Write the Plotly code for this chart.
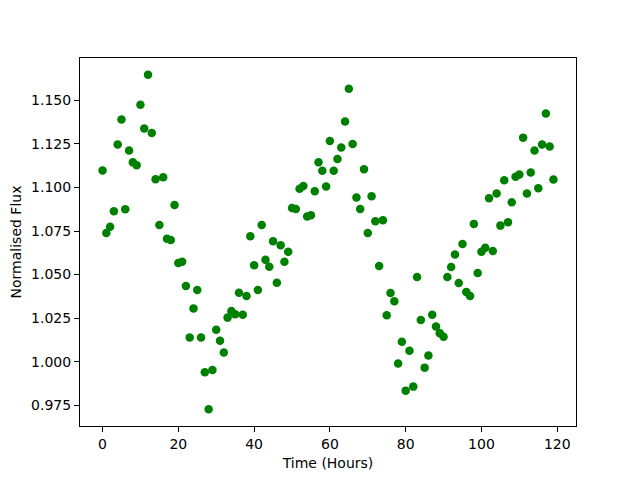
import plotly.graph_objects as go

time_hours = list(range(120))
flux = [
    1.1098, 1.0738, 1.0774, 1.0863, 1.1247, 1.1390, 1.0875, 1.1212, 1.1144, 1.1127,
    1.1475, 1.1338, 1.1647, 1.1313, 1.1047, 1.0785, 1.1058, 1.0705, 1.0698, 1.0900,
    1.0566, 1.0574, 1.0434, 1.0139, 1.0305, 1.0412, 1.0139, 0.9939, 0.9727, 0.9952,
    1.0183, 1.0120, 1.0053, 1.0253, 1.0291, 1.0272, 1.0396, 1.0270, 1.0377, 1.0720,
    1.0554, 1.0412, 1.0785, 1.0585, 1.0545, 1.0692, 1.0453, 1.0669, 1.0574, 1.0631,
    1.0882, 1.0877, 1.0993, 1.1008, 1.0833, 1.0841, 1.0978, 1.1145, 1.1096, 1.1006,
    1.1267, 1.1096, 1.1163, 1.1229, 1.1378, 1.1567, 1.1250, 1.0943, 1.0877, 1.1105,
    1.0739, 1.0949, 1.0806, 1.0549, 1.0812, 1.0267, 1.0394, 1.0347, 0.9990, 1.0114,
    0.9834, 1.0063, 0.9857, 1.0486, 1.0240, 0.9966, 1.0036, 1.0269, 1.0202, 1.0164,
    1.0143, 1.0486, 1.0543, 1.0615, 1.0452, 1.0676, 1.0400, 1.0377, 1.0791, 1.0509,
    1.0631, 1.0654, 1.0938, 1.0635, 1.0966, 1.0781, 1.1041, 1.0800, 1.0915, 1.1062,
    1.1075, 1.1286, 1.0966, 1.1086, 1.1212, 1.0995, 1.1246, 1.1424, 1.1235, 1.1046,
]
x_ticks = [0, 20, 40, 60, 80, 100, 120]
y_ticks = [0.975, 1.000, 1.025, 1.050, 1.075, 1.100, 1.125, 1.150]

xmin, xmax = min(time_hours), max(time_hours)
ymin, ymax = min(flux), max(flux)
xm = 0.05 * (xmax - xmin)
ym = 0.05 * (ymax - ymin)

fig = go.Figure(go.Scatter(
    x=time_hours, y=flux, mode="markers",
    marker=dict(color="#008000", size=8.5, line=dict(width=0)),
))

axis_common = dict(
    showgrid=False, zeroline=False, showline=True, linecolor="black", linewidth=1,
    mirror=True, ticks="outside", ticklen=5, tickwidth=1, tickcolor="black",
    tickfont=dict(family="DejaVu Sans", size=14, color="black"),
    automargin=False,
)

fig.update_layout(
    width=640, height=480,
    paper_bgcolor="white", plot_bgcolor="white",
    margin=dict(l=72, r=72, t=50, b=62),
    showlegend=False,
    font=dict(family="DejaVu Sans", size=14, color="black"),
    xaxis=dict(
        range=[xmin - xm, xmax + xm], tickvals=x_ticks,
        title=dict(text="Time (Hours)", font=dict(size=14), standoff=7),
        **axis_common,
    ),
    yaxis=dict(
        range=[ymin - ym, ymax + ym], tickvals=y_ticks, tickformat=".3f",
        title=dict(text="Normalised Flux", font=dict(size=14), standoff=6),
        **axis_common,
    ),
)

fig.write_html("out.html")
